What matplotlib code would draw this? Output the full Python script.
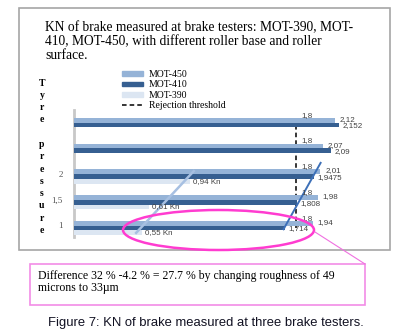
import numpy as np
import matplotlib
matplotlib.use("Agg")
import matplotlib.pyplot as plt
from matplotlib.patches import Ellipse, Rectangle, Patch
from matplotlib.lines import Line2D

# data (top group first)
categories = ["", "", "2", "1,5", "1"]
mot450 = [2.12, 2.02, 2.00, 1.98, 1.94]
mot450_labels = ["2,12", "2,07", "2,01", "1,98", "1,94"]
mot410 = [2.152, 2.09, 1.9475, 1.808, 1.714]
mot410_labels = ["2,152", "2,09", "1,9475", "1,808", "1,714"]
mot390 = [np.nan, np.nan, 0.94, 0.61, 0.55]
mot390_labels = ["", "", "0,94 Kn", "0,61 Kn", "0,55 Kn"]
threshold = [1.8, 1.8, 1.8, 1.8, 1.8]

c450 = "#95b3d7"
c410 = "#365f91"
c390 = "#dce6f2"

W, H = 408, 334
fig = plt.figure(figsize=(W / 100, H / 100), dpi=100)

def fx(x):
    return x / W

def fy(y):
    return 1 - y / H

# bar axes
ax = fig.add_axes([fx(74), fy(237), (382 - 74) / W, (237 - 110) / H])
y = np.arange(len(categories))
slot = 0.186
ax.barh(y - slot, mot450, height=slot, color=c450, zorder=3)
ax.barh(y, mot410, height=slot, color=c410, zorder=3)
ax.barh(y + slot, mot390, height=slot, color=c390, zorder=3)
ax.plot(threshold, y, color="black", ls=(0, (3, 2)), lw=1.1, zorder=2)

lab = dict(fontsize=5.8, family="Liberation Sans", color="#404040",
           textcoords="offset points", ha="left", va="center", zorder=5)
for i in range(len(y)):
    ax.annotate(mot450_labels[i], (mot450[i], y[i] - slot), xytext=(3.5, 0.5), **lab)
    ax.annotate(mot410_labels[i], (mot410[i], y[i]), xytext=(2.5, -0.7), **lab)
    ax.annotate(str(threshold[i]).replace(".", ","), (threshold[i], y[i]), xytext=(4, 7), **lab)
    if mot390_labels[i]:
        ax.annotate(mot390_labels[i], (mot390[i], y[i] + slot), xytext=(2, 0), **lab)

# trend lines
m = ~np.isnan(np.array(mot390))
p390 = np.polyfit(y[m] + slot, np.array(mot390)[m], 1)
yy = np.array([1.79, 4.19])
ax.plot(np.polyval(p390, yy), yy, color="#a7c0e2", lw=1.8, zorder=4)
p410 = np.polyfit(y[m], np.array(mot410)[m], 1)
yy = np.array([1.47, 4.05])
ax.plot(np.polyval(p410, yy), yy, color="#3d70b8", lw=1.4, zorder=4)

ax.set_xlim(0, 2.5)
ax.set_ylim(4.35, -0.583)
ax.set_xticks([])
ax.set_yticks(y - 0.1)
ax.set_yticklabels(categories, family="Liberation Serif", fontsize=6.5, color="#555555")
ax.tick_params(axis="y", length=0, pad=8)
for s in ["top", "right", "bottom"]:
    ax.spines[s].set_visible(False)
ax.spines["left"].set_color("#c8c8c8")
ax.spines["left"].set_linewidth(2)
ax.patch.set_alpha(0)

handles = [Patch(color=c450), Patch(color=c410), Patch(color=c390),
           Line2D([], [], color="black", ls=(0, (3, 2)), lw=1.1)]
ax.legend(handles, ["MOT-450", "MOT-410", "MOT-390", "Rejection threshold"],
          loc="upper left", bbox_to_anchor=(fx(122), fy(70)), bbox_transform=fig.transFigure,
          frameon=False, borderpad=0, borderaxespad=0, handlelength=2.15, handleheight=0.4,
          handletextpad=0.6, labelspacing=0.15,
          prop={"family": "Liberation Serif", "size": 7})

# overlay for frame, titles and callout
ov = fig.add_axes([0, 0, 1, 1])
ov.set_xlim(0, W)
ov.set_ylim(H, 0)
ov.axis("off")
ov.patch.set_alpha(0)

ov.add_patch(Rectangle((19, 8), 371, 242, fill=False, ec="#a6a6a6", lw=1.2))
ov.text(45, 21, "KN of brake measured at brake testers: MOT-390, MOT-\n"
        "410, MOT-450, with different roller base and roller\nsurface.",
        family="Liberation Serif", fontsize=9.75, va="top", ha="left", linespacing=1.08)

for k, ch in enumerate("Tyre pressure"):
    ov.text(42, 83 + k * 12.3, ch, family="Liberation Serif", fontsize=7, fontweight="bold",
            ha="center", va="center")

ov.add_patch(Ellipse((218.5, 230), 191, 40, fill=False, ec="#ff3cd0", lw=1.8))
ov.plot([315, 365], [232, 264], color="#f070e0", lw=0.8)
ov.add_patch(Rectangle((30, 264), 335, 41, fill=False, ec="#f28ce6", lw=1.2))
ov.text(38, 269.5, "Difference 32 % -4.2 % = 27.7 % by changing roughness of 49\nmicrons to 33\u00b5m",
        family="Liberation Serif", fontsize=8.5, va="top", ha="left", linespacing=1.05)

ov.text(W / 2 + 1.5, 323, "Figure 7: KN of brake measured at three brake testers.",
        family="Liberation Sans", fontsize=9.4, color="#111122", ha="center", va="center")

fig.savefig("out.png", dpi=100)
